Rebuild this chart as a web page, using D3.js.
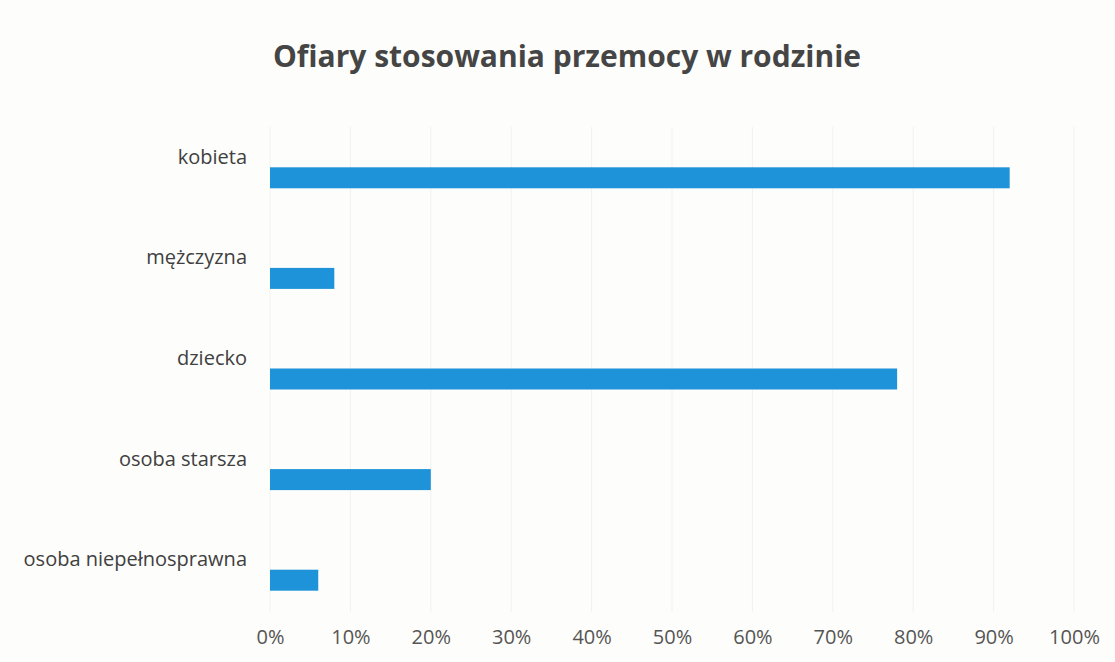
<!DOCTYPE html>
<html><head><meta charset="utf-8">
<script src="https://cdn.jsdelivr.net/npm/d3@7"></script>
<style>html,body{margin:0;padding:0;background:#fdfdfb;}svg{display:block;}</style>
</head><body>
<svg id="c" width="1115" height="662"></svg>
<script>
const title = "Ofiary stosowania przemocy w rodzinie";
const categories = ["kobieta","mężczyzna","dziecko","osoba starsza","osoba niepełnosprawna"];
const values = [0.92, 0.08, 0.78, 0.20, 0.06];
const tickValues = [0,0.1,0.2,0.3,0.4,0.5,0.6,0.7,0.8,0.9,1.0];

const svg = d3.select("#c");
const font = "'Open Sans', sans-serif";
const x = d3.scaleLinear().domain([0,1]).range([270,1074]);
const y = d3.scaleBand().domain(categories).range([127,630]).padding(0);
const barH = 21;

svg.append("rect").attr("width",1115).attr("height",662).attr("fill","#fdfdfb");

// gridlines
svg.append("g").selectAll("line").data(tickValues).join("line")
  .attr("x1",d=>x(d)).attr("x2",d=>x(d)).attr("y1",127).attr("y2",612)
  .attr("stroke","#f1f1ed").attr("stroke-width",1);

// bars
svg.append("g").selectAll("rect").data(categories).join("rect")
  .attr("x",x(0))
  .attr("y",d=>y(d)+y.bandwidth()/2-barH/2+0.5)
  .attr("width",(d,i)=>x(values[i])-x(0))
  .attr("height",barH)
  .attr("fill","#1f93d9");

// category labels
svg.append("g").selectAll("text").data(categories).join("text")
  .attr("x",247)
  .attr("y",d=>y(d)+y.bandwidth()/2-21)
  .attr("text-anchor","end").attr("dominant-baseline","central")
  .attr("font-family",font).attr("font-size",20).attr("fill","#404040")
  .text(d=>d);

// x axis
const ax = svg.append("g").attr("transform","translate(0,620)")
  .call(d3.axisBottom(x).tickValues(tickValues).tickFormat(d3.format(".0%")).tickSize(0).tickPadding(0));
ax.select(".domain").remove();
ax.selectAll("text").attr("font-family",font).attr("font-size",20).attr("fill","#555555")
  .attr("dy","0").attr("y",24);

// title
svg.append("text").attr("x",567).attr("y",67).attr("text-anchor","middle")
  .attr("font-family",font).attr("font-size",30).attr("font-weight","bold").attr("fill","#454545")
  .text(title);
</script>
</body></html>
